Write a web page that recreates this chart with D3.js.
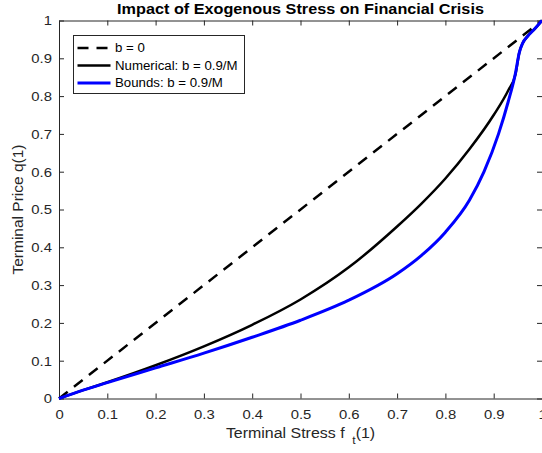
<!DOCTYPE html>
<html>
<head>
<meta charset="utf-8">
<script src="https://cdn.jsdelivr.net/npm/d3@7"></script>
<style>
  body { margin: 0; background: #fff; }
  text { font-family: "Liberation Sans", Arial, Helvetica, sans-serif; }
</style>
</head>
<body>
<div id="chart"></div>
<script>
// values
const stressBaseline = [0, 1];
const priceBaseline = [0, 1];

const stressNumerical = [0, 0.05, 0.1, 0.2, 0.3, 0.4, 0.5, 0.6, 0.7, 0.75, 0.8, 0.85, 0.9, 0.93, 0.945, 0.953, 0.96, 0.97, 0.985, 1];
const priceNumerical = [0, 0.022, 0.043, 0.088, 0.138, 0.195, 0.262, 0.347, 0.455, 0.515, 0.582, 0.66, 0.75, 0.815, 0.857, 0.915, 0.94, 0.958, 0.978, 1];

const stressBounds = [0, 0.05, 0.1, 0.2, 0.3, 0.4, 0.5, 0.6, 0.7, 0.75, 0.8, 0.85, 0.88, 0.91, 0.93, 0.945, 0.953, 0.96, 0.97, 0.985, 1];
const priceBounds = [0, 0.022, 0.042, 0.081, 0.12, 0.162, 0.207, 0.26, 0.33, 0.378, 0.44, 0.525, 0.6, 0.7, 0.785, 0.86, 0.915, 0.94, 0.958, 0.978, 1];

const xTicks = [0, 0.1, 0.2, 0.3, 0.4, 0.5, 0.6, 0.7, 0.8, 0.9, 1];
const yTicks = [0, 0.1, 0.2, 0.3, 0.4, 0.5, 0.6, 0.7, 0.8, 0.9, 1];

const legendLabels = ['b = 0', 'Numerical: b = 0.9/M', 'Bounds: b = 0.9/M'];

const width = 542;
const height = 453;
const margin = { top: 20.5, right: 0, bottom: 54.5, left: 59 };
const axisColor = '#262626';
// the reference font runs a little wider than Liberation Sans
const stretch = 1.1;

const svg = d3.select('#chart').append('svg')
    .attr('width', width)
    .attr('height', height);

const x = d3.scaleLinear().domain([0, 1]).range([margin.left, width - margin.right]);
const y = d3.scaleLinear().domain([0, 1]).range([height - margin.bottom, margin.top]);

const series = [
    { xs: stressBaseline, ys: priceBaseline, color: '#000', width: 2.5, dash: '11,8' },
    { xs: stressNumerical, ys: priceNumerical, color: '#000', width: 2.5, dash: null },
    { xs: stressBounds, ys: priceBounds, color: '#0000ff', width: 3, dash: null },
];

// axes box with inward ticks on all four sides
const tickLen = 5;
const xPad = 11;
const yPad = 7;
const axisG = svg.append('g');

const bottomAxis = axisG.append('g')
    .attr('transform', `translate(0,${y(0)})`)
    .call(d3.axisBottom(x).tickValues(xTicks).tickSizeInner(-tickLen).tickSizeOuter(0).tickPadding(xPad)
        .tickFormat(d3.format('~g')));
axisG.append('g')
    .attr('transform', `translate(0,${y(1)})`)
    .call(d3.axisTop(x).tickValues(xTicks).tickSizeInner(-tickLen).tickSizeOuter(0).tickFormat(''));
const leftAxis = axisG.append('g')
    .attr('transform', `translate(${x(0)},0)`)
    .call(d3.axisLeft(y).tickValues(yTicks).tickSizeInner(-tickLen).tickSizeOuter(0).tickPadding(yPad)
        .tickFormat(d3.format('~g')));
const rightAxis = axisG.append('g')
    .attr('transform', `translate(${x(1)},0)`)
    .call(d3.axisRight(y).tickValues(yTicks).tickSizeInner(-tickLen).tickSizeOuter(0).tickFormat(''));
rightAxis.select('.domain').remove();

axisG.selectAll('.domain').attr('stroke', axisColor).attr('stroke-width', 1);
axisG.selectAll('.tick line').attr('stroke', axisColor).attr('stroke-width', 1);
axisG.selectAll('.tick text')
    .attr('fill', axisColor)
    .style('font-size', '13.5px')
    .style('font-family', '"Liberation Sans", Arial, Helvetica, sans-serif');
bottomAxis.selectAll('.tick text').attr('transform', `scale(${stretch},1)`);
leftAxis.selectAll('.tick text')
    .attr('transform', `translate(${-yPad},0) scale(${stretch},1) translate(${yPad},0)`);

// curves
const line = d3.line()
    .x(d => x(d[0]))
    .y(d => y(d[1]))
    .curve(d3.curveMonotoneX);

series.forEach((s) => {
    const pts = s.xs.map((v, i) => [v, s.ys[i]]);
    svg.append('path')
        .datum(pts)
        .attr('d', line)
        .attr('fill', 'none')
        .attr('stroke', s.color)
        .attr('stroke-width', s.width)
        .attr('stroke-dasharray', s.dash);
});

// title and axis labels
const midX = (x(0) + x(1)) / 2;
svg.append('text')
    .attr('transform', `translate(${midX},14) scale(1.12,1)`)
    .attr('text-anchor', 'middle')
    .style('font-size', '14.5px')
    .style('font-weight', 'bold')
    .attr('fill', '#000')
    .text('Impact of Exogenous Stress on Financial Crisis');

const xLabel = svg.append('text')
    .attr('transform', `translate(${midX},438) scale(${stretch},1)`)
    .attr('text-anchor', 'middle')
    .style('font-size', '14.5px')
    .attr('fill', axisColor);
xLabel.append('tspan').text('Terminal Stress f');
xLabel.append('tspan').attr('dx', 7).attr('dy', 5.5).style('font-size', '11px').text('t');
xLabel.append('tspan').attr('dy', -5.5).text('(1)');

svg.append('text')
    .attr('transform', `translate(23,${(y(0) + y(1)) / 2}) rotate(-90) scale(1.07,1)`)
    .attr('text-anchor', 'middle')
    .style('font-size', '14.5px')
    .attr('fill', axisColor)
    .text('Terminal Price q(1)');

// legend
const legend = svg.append('g').attr('transform', 'translate(73.5,35.5)');
legend.append('rect')
    .attr('width', 171)
    .attr('height', 58)
    .attr('fill', '#fff')
    .attr('stroke', axisColor)
    .attr('stroke-width', 1);

const rowY = [12.5, 30, 47.5];
legendLabels.forEach((label, i) => {
    const s = series[i];
    legend.append('line')
        .attr('x1', 4)
        .attr('x2', 37)
        .attr('y1', rowY[i])
        .attr('y2', rowY[i])
        .attr('stroke', s.color)
        .attr('stroke-width', s.width)
        .attr('stroke-dasharray', s.dash);
    legend.append('text')
        .attr('transform', `translate(41.5,${rowY[i] + 4.3}) scale(1.06,1)`)
        .style('font-size', '12.5px')
        .attr('fill', '#000')
        .text(label);
});
</script>
</body>
</html>
